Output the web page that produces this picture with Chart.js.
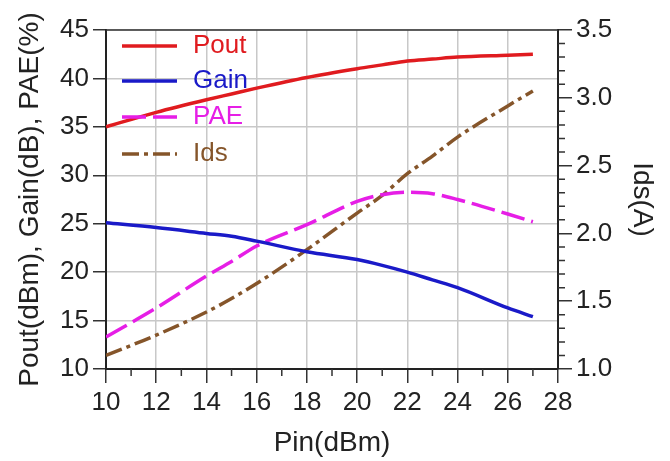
<!DOCTYPE html>
<html>
<head>
<meta charset="utf-8">
<script src="https://cdn.jsdelivr.net/npm/chart.js@4.4.1/dist/chart.umd.min.js"></script>
<style>
html, body { margin: 0; padding: 0; background: #fff; }
</style>
</head>
<body>
<canvas id="myChart" width="670" height="461"></canvas>
<script>
// values
const pin  = [10, 12, 14, 15, 16, 18, 20, 21, 22, 23, 24, 26, 27];
const pout = [35.0, 36.5, 37.8, 38.4, 39.0, 40.1, 41.0, 41.4, 41.8, 42.0, 42.2, 42.4, 42.5];
const gain = [25.1, 24.6, 24.0, 23.7, 23.2, 22.1, 21.3, 20.7, 20.0, 19.2, 18.4, 16.3, 15.4];
const pae  = [13.3, 16.3, 19.6, 21.1, 22.7, 24.9, 27.3, 28.0, 28.25, 28.1, 27.5, 26.0, 25.2];
const ids  = [1.10, 1.25, 1.42, 1.52, 1.63, 1.88, 2.15, 2.28, 2.44, 2.57, 2.71, 2.94, 3.05];

const xMinorTicks = [11, 13, 15, 17, 19, 21, 23, 25, 27];
const idsMinorTicks = [1.1, 1.2, 1.3, 1.4, 1.6, 1.7, 1.8, 1.9, 2.1, 2.2, 2.3, 2.4, 2.6, 2.7, 2.8, 2.9, 3.1, 3.2, 3.3, 3.4];

const fontFam = "Arial, 'Liberation Sans', sans-serif";
const textColor = "#222";

function pts(ys) {
    return pin.map(function(x, i) { return { x: x, y: ys[i] }; });
}

// minor ticks, top border and the in-plot legend
const extras = {
    id: "extras",
    afterDraw: function(chart) {
        const ctx = chart.ctx;
        const area = chart.chartArea;
        const sx = chart.scales.x;
        const sr = chart.scales.y1;
        ctx.save();
        ctx.strokeStyle = "#333";
        ctx.lineWidth = 1.5;
        ctx.beginPath();
        ctx.moveTo(area.left, area.top);
        ctx.lineTo(area.right, area.top);
        xMinorTicks.forEach(function(v) {
            const px = sx.getPixelForValue(v);
            ctx.moveTo(px, area.bottom);
            ctx.lineTo(px, area.bottom + 7);
        });
        idsMinorTicks.forEach(function(v) {
            const py = sr.getPixelForValue(v);
            ctx.moveTo(area.right, py);
            ctx.lineTo(area.right + 7, py);
        });
        ctx.stroke();

        // legend
        const rows = [46, 81, 117, 154];
        ctx.font = "26px " + fontFam;
        ctx.textBaseline = "middle";
        chart.data.datasets.forEach(function(ds, i) {
            const y = rows[i];
            ctx.strokeStyle = ds.borderColor;
            ctx.lineWidth = 3.5;
            ctx.setLineDash(ds.borderDash || []);
            ctx.beginPath();
            ctx.moveTo(122, y);
            ctx.lineTo(177, y);
            ctx.stroke();
            ctx.setLineDash([]);
            ctx.fillStyle = ds.borderColor;
            ctx.fillText(ds.label, 193, y);
        });
        ctx.restore();
    }
};

const myChart = document.getElementById("myChart").getContext("2d");
const powerChart = new Chart(myChart, {
    type: "line",
    data: {
        datasets: [{
            label: "Pout",
            data: pts(pout),
            borderColor: "#e01b1f",
            borderWidth: 3.5,
            yAxisID: "y"
        }, {
            label: "Gain",
            data: pts(gain),
            borderColor: "#1a1ac8",
            borderWidth: 3.5,
            yAxisID: "y"
        }, {
            label: "PAE",
            data: pts(pae),
            borderColor: "#e61ee6",
            borderWidth: 3.5,
            borderDash: [24, 7],
            yAxisID: "y"
        }, {
            label: "Ids",
            data: pts(ids),
            borderColor: "#85552a",
            borderWidth: 3.5,
            borderDash: [17, 5, 4, 5],
            yAxisID: "y1"
        }]
    },
    options: {
        responsive: false,
        animation: false,
        layout: { padding: { top: 30, left: 0, right: 0, bottom: 0 } },
        elements: {
            point: { radius: 0 },
            line: { cubicInterpolationMode: "monotone", fill: false }
        },
        plugins: {
            legend: { display: false },
            tooltip: { enabled: false }
        },
        scales: {
            x: {
                type: "linear",
                min: 10,
                max: 28,
                ticks: { stepSize: 2, color: textColor, font: { size: 26, family: fontFam }, padding: 4, maxRotation: 0 },
                grid: { color: "#c8c8c8", lineWidth: 1.5, tickColor: "#333", tickLength: 14 },
                border: { color: "#222", width: 2 },
                title: { display: true, text: "Pin(dBm)", color: textColor, font: { size: 28, family: fontFam }, padding: { top: 1, bottom: 1 } },
                afterFit: function(s) { s.height = 92; }
            },
            y: {
                position: "left",
                min: 10,
                max: 45,
                ticks: { stepSize: 5, color: textColor, font: { size: 26, family: fontFam }, padding: 4 },
                grid: { color: "#c8c8c8", lineWidth: 1.5, tickColor: "#333", tickLength: 13 },
                border: { color: "#222", width: 2 },
                title: { display: true, text: "Pout(dBm), Gain(dB), PAE(%)", color: textColor, font: { size: 28, family: fontFam }, padding: { top: 13, bottom: 13 } },
                afterFit: function(s) { s.width = 106; }
            },
            y1: {
                position: "right",
                min: 1,
                max: 3.5,
                ticks: {
                    stepSize: 0.5,
                    color: textColor,
                    font: { size: 26, family: fontFam },
                    padding: 4,
                    callback: function(value) { return value.toFixed(1); }
                },
                grid: { drawOnChartArea: false, tickColor: "#333", tickLength: 14, lineWidth: 1.5 },
                border: { color: "#222", width: 2 },
                title: { display: true, text: "Ids(A)", color: textColor, font: { size: 28, family: fontFam }, padding: { top: 11, bottom: 11 } },
                afterFit: function(s) { s.width = 112; }
            }
        }
    },
    plugins: [extras]
});
</script>
</body>
</html>
